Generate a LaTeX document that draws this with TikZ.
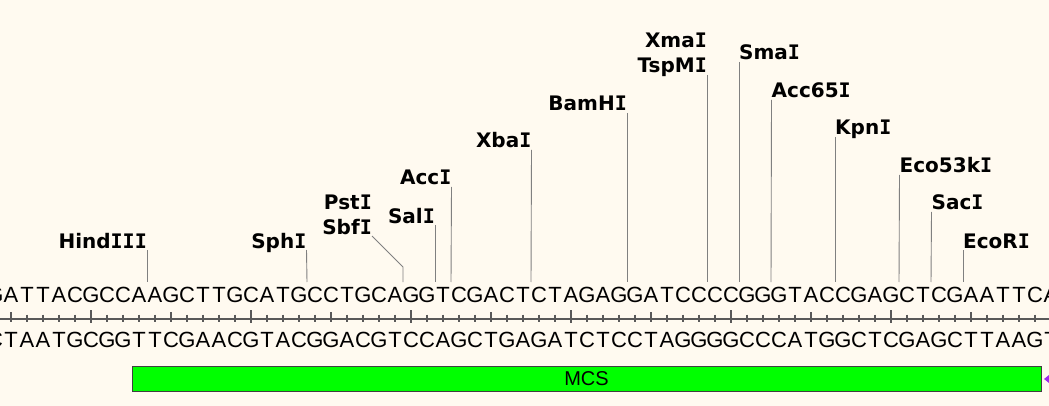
\documentclass[tikz,border=0pt]{standalone}
\usepackage{fontspec}
\newfontfamily\labfont{DejaVu Sans}
\newfontfamily\labmono{DejaVu Sans Mono}
\newfontfamily\seqfont{Liberation Sans}
\newcommand\serifI{{\labmono\bfseries I}}
\definecolor{bgc}{HTML}{FFFAF0}
\definecolor{rulec}{HTML}{595959}
\definecolor{cutc}{HTML}{808080}
\definecolor{mcsgreen}{HTML}{00FF00}
\definecolor{mcsborder}{HTML}{404040}
\definecolor{arrowpurple}{RGB}{160,40,240}
\tikzset{
  seq/.style={inner sep=0pt, anchor=base, font=\seqfont\fontsize{22}{22}\selectfont, text=black},
  lab/.style={inner sep=0pt, font=\labfont\bfseries\fontsize{20}{20}\selectfont, text=black},
  labL/.style={lab, anchor=base east},
  labR/.style={lab, anchor=base west},
  cut/.style={draw=cutc, line width=0.9pt},
  tick/.style={draw=rulec, line width=1.6pt},
  mcsbox/.style={draw=mcsborder, fill=mcsgreen, line width=1pt, minimum width=909pt, minimum height=25pt, inner sep=0pt, font=\seqfont\fontsize{20}{20}\selectfont},
}
\begin{document}
\begin{tikzpicture}[x=1pt,y=-1pt]
\useasboundingbox (0,0) rectangle (1049,406);
\fill[bgc] (0,0) rectangle (1049,406);

% top strand
\foreach \c [count=\i] in {G,A,T,T,A,C,G,C,C,A,A,G,C,T,T,G,C,A,T,G,C,C,T,G,C,A,G,G,T,C,G,A,C,T,C,T,A,G,A,G,G,A,T,C,C,C,C,G,G,G,T,A,C,C,G,A,G,C,T,C,G,A,A,T,T,C,A}
  \node[seq] (t\i) at ({-5+16*(\i-1)},302) {\c};
% bottom strand
\foreach \c [count=\i] in {C,T,A,A,T,G,C,G,G,T,T,C,G,A,A,C,G,T,A,C,G,G,A,C,G,T,C,C,A,G,C,T,G,A,G,A,T,C,T,C,C,T,A,G,G,G,G,C,C,C,A,T,G,G,C,T,C,G,A,G,C,T,T,A,A,G,T}
  \node[seq] (b\i) at ({-5+16*(\i-1)},347) {\c};

% ruler
\draw[draw=rulec, line width=2pt] (0,319) -- (1049,319);
\foreach \k in {0,...,65}{
  \pgfmathtruncatemacro\r{mod(\k,10)}
  \ifnum\r=5 \draw[tick] ({11+16*\k},310) -- ++(0,13);
  \else\ifnum\r=0 \draw[tick] ({11+16*\k},312) -- ++(0,10);
  \else \draw[tick] ({11+16*\k},314.5) -- ++(0,7);
  \fi\fi
}

% cut site coordinates
\coordinate (cHind) at (147,282);
\coordinate (cSph) at (307,282);
\coordinate (cPst) at (403,282);
\coordinate (bPst) at (403,267);
\coordinate (cSal) at (435,282);
\coordinate (cAcc) at (451,282);
\coordinate (cXba) at (531,282);
\coordinate (cBam) at (627,282);
\coordinate (cXma) at (707,282);
\coordinate (cSma) at (739,282);
\coordinate (cAcc65) at (771,282);
\coordinate (cKpn) at (835,282);
\coordinate (cEcoF) at (899,282);
\coordinate (cSac) at (931,282);
\coordinate (cEcoR) at (963,282);

% labels
\node[labL] (hind) at (147,248) {Hind\serifI\serifI\serifI};
\node[labL] (sph) at (306.5,248) {Sph\serifI};
\node[labL] (pst) at (372,210) {Pst\serifI};
\node[labL] (sbf) at (372,234) {Sbf\serifI};
\node[labL] (sal) at (435,223) {Sal\serifI};
\node[labL] (acc) at (451.5,185) {Acc\serifI};
\node[labL] (xba) at (531.5,148) {Xba\serifI};
\node[labL] (bam) at (627,111) {BamH\serifI};
\node[labL] (xma) at (707,48) {Xma\serifI};
\node[labL] (tsp) at (707,73) {TspM\serifI};
\node[labR] (sma) at (739,60) {Sma\serifI};
\node[labR] (acc65) at (771.5,98) {Acc65\serifI};
\node[labR] (kpn) at (835,135) {Kpn\serifI};
\node[labR] (ecof) at (899.5,173) {Eco53k\serifI};
\node[labR] (sac) at (931.5,210) {Sac\serifI};
\node[labR] (ecor) at (963,248) {EcoR\serifI};

% connectors
\draw[cut] ([yshift=-2pt]hind.base east) -- (cHind);
\draw[cut] ([yshift=-2pt]sph.base east) -- (cSph);
\draw[cut] ([yshift=-2pt]sbf.base east) -- (bPst) -- (cPst);
\draw[cut] ([yshift=-2pt]sal.base east) -- (cSal);
\draw[cut] ([yshift=-2pt]acc.base east) -- (cAcc);
\draw[cut] ([yshift=-2pt]xba.base east) -- (cXba);
\draw[cut] ([yshift=-2pt]bam.base east) -- (cBam);
\draw[cut] ([yshift=-2pt]tsp.base east) -- (cXma);
\draw[cut] ([yshift=-2pt]sma.base west) -- (cSma);
\draw[cut] ([yshift=-2pt]acc65.base west) -- (cAcc65);
\draw[cut] ([yshift=-2pt]kpn.base west) -- (cKpn);
\draw[cut] ([yshift=-2pt]ecof.base west) -- (cEcoF);
\draw[cut] ([yshift=-2pt]sac.base west) -- (cSac);
\draw[cut] ([yshift=-2pt]ecor.base west) -- (cEcoR);

% MCS feature
\node[mcsbox] (mcs) at (586.5,378.5) {MCS};
\coordinate (arrtip) at (1044,379);
\fill[arrowpurple] (arrtip) -- (1049,375) -- (1049,383) -- cycle;
\end{tikzpicture}
\end{document}
